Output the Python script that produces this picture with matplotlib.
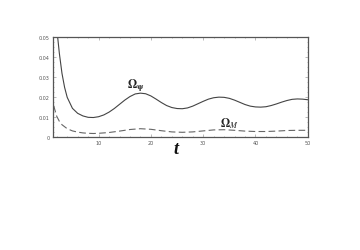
import matplotlib
matplotlib.use("Agg")
import matplotlib.pyplot as plt
from matplotlib.ticker import MultipleLocator

plt.rcParams["mathtext.fontset"] = "stix"

t_psi = [2.1, 2.5, 3, 3.5, 4, 5, 6, 7, 8, 9, 10, 11, 12, 13, 14, 15, 16, 17, 18, 19, 20,
         21, 22, 23, 24, 25, 26, 27, 28, 29, 30, 31, 32, 33, 34, 35, 36, 37, 38, 39, 40,
         41, 42, 43, 44, 45, 46, 47, 48, 49, 50]
omega_psi = [0.052, 0.042, 0.032, 0.025, 0.020, 0.0145, 0.0120, 0.0107, 0.0100, 0.0099, 0.0103,
             0.0112, 0.0126, 0.0144, 0.0165, 0.0186, 0.0204, 0.0217, 0.0221, 0.0218, 0.0207,
             0.0191, 0.0174, 0.0159, 0.0149, 0.0144, 0.0143, 0.0147, 0.0156, 0.0168, 0.0180,
             0.0191, 0.0198, 0.0201, 0.0200, 0.0195, 0.0186, 0.0175, 0.0164, 0.0156, 0.0152,
             0.0151, 0.0153, 0.0159, 0.0167, 0.0176, 0.0184, 0.0190, 0.0192, 0.0191, 0.0188]

t_m = [1.2, 1.5, 2, 2.5, 3, 4, 5, 6, 7, 8, 9, 10, 12, 14, 16, 18, 20, 22, 24, 26, 28,
       30, 32, 34, 36, 38, 40, 42, 44, 46, 48, 50]
omega_m = [0.0207, 0.015, 0.0105, 0.008, 0.0063, 0.0043, 0.0032, 0.0026, 0.0022, 0.0020, 0.0019,
           0.0020, 0.0024, 0.0031, 0.0039, 0.0043, 0.0040, 0.0033, 0.0027, 0.0025, 0.0027,
           0.0032, 0.0037, 0.0038, 0.0035, 0.0031, 0.0029, 0.0029, 0.0031, 0.0034, 0.0035, 0.0035]

xticks = [10, 20, 30, 40, 50]
yticks = [0, 0.01, 0.02, 0.03, 0.04, 0.05]
ytick_labels = ["0", "0.01", "0.02", "0.03", "0.04", "0.05"]

fig = plt.figure(figsize=(3.6, 2.51), dpi=100)
ax = fig.add_axes([0.146, 0.449, 0.709, 0.398])
col = "#444444"
ax.plot(t_psi, omega_psi, color=col, lw=0.8)
ax.plot(t_m, omega_m, color="#666666", lw=0.8, dashes=(6, 3))
ax.set_xlim(1.2, 50)
ax.set_ylim(0, 0.05)
ax.set_xticks(xticks)
ax.set_yticks(yticks)
ax.set_yticklabels(ytick_labels)
ax.xaxis.set_minor_locator(MultipleLocator(2))
ax.yaxis.set_minor_locator(MultipleLocator(0.0025))
ax.tick_params(which="both", direction="in", top=True, right=True, labelsize=3.5,
               labelcolor="#555555", color="#888888", width=0.4, pad=2)
ax.tick_params(which="major", length=2)
ax.tick_params(which="minor", length=1)
for s in ax.spines.values():
    s.set_color("#555555")
    s.set_linewidth(0.9)

ax.text(17.0, 0.0262, r"$\mathbf{\Omega}_{\mathbf{\psi}}$", fontsize=8.5, color="#222222",
        ha="center", va="center")
ax.text(35.0, 0.0072, r"$\mathbf{\Omega}_{\mathit{M}}$", fontsize=8.5, color="#222222",
        ha="center", va="center")
fig.text(176/360, 1 - 150/251, "t", fontsize=13, fontweight="bold", fontstyle="italic",
         family="Liberation Serif", ha="center", va="center", color="#111111")

fig.savefig("out.png", dpi=100)
